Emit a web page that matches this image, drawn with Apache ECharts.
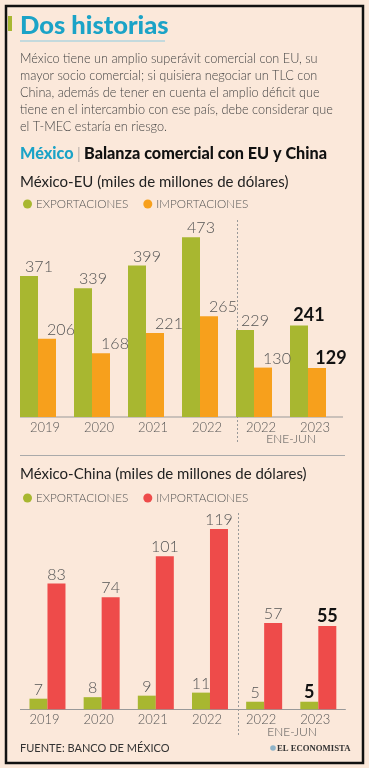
<!DOCTYPE html>
<html><head><meta charset="utf-8">
<script src="https://cdn.jsdelivr.net/npm/echarts@6/dist/echarts.min.js"></script>
<style>html,body{margin:0;padding:0;background:#fbe8da;}#c{width:369px;height:768px;}</style>
</head><body><div id="c"></div>
<script>
const categories = ['2019','2020','2021','2022','2022','2023'];
const euExports = [371, 339, 399, 473, 229, 241];
const euImports = [206, 168, 221, 265, 130, 129];
const chinaExports = [7, 8, 9, 11, 5, 5];
const chinaImports = [83, 74, 101, 119, 57, 55];
const seriesNames = ['EXPORTACIONES', 'IMPORTACIONES'];
const paragraph = [
  'México tiene un amplio superávit comercial con EU, su',
  'mayor socio comercial; si quisiera negociar un TLC con',
  'China, además de tener en cuenta el amplio déficit que',
  'tiene en el intercambio con ese país, debe considerar que',
  'el T-MEC estaría en riesgo.'
];

const FONT = 'Lato';
const GREEN = '#a8b730', ORANGE = '#f7a01c', RED = '#ee4b4a', CYAN = '#1ba3c7';
const chart = echarts.init(document.getElementById('c'), null, {renderer: 'canvas'});

function withLastBold(arr) {
  return arr.map((v, i) => i === arr.length - 1
    ? {value: v, label: {fontWeight: 'bold', color: '#111', fontSize: 18}}
    : v);
}
function lbl(offsetX) {
  return {show: true, position: 'top', distance: 1, offset: [offsetX, 0],
    fontFamily: FONT, fontWeight: 300, fontSize: 16, color: '#555'};
}

const graphics = [
  {type: 'rect', shape: {x: 6, y: 6, width: 357, height: 757}, style: {fill: 'none', stroke: '#111', lineWidth: 2.5}},
  {type: 'rect', shape: {x: 8, y: 16, width: 4, height: 15}, style: {fill: GREEN}},
  {type: 'text', x: 20, y: 26, style: {text: 'Dos historias', font: '900 25.5px ' + FONT, fill: CYAN, textVerticalAlign: 'middle'}},
  {type: 'line', shape: {x1: 20, y1: 41, x2: 165, y2: 41}, style: {stroke: '#8ccbe0', lineWidth: 1}},
  {type: 'text', x: 20, y: 153.5, style: {rich: {a: {font: '900 16.2px ' + FONT, fill: CYAN}, b: {font: '300 16px ' + FONT, fill: '#888'}, c: {font: '900 16.2px ' + FONT, fill: '#111'}}, text: '{a|México} {b||} {c|Balanza comercial con EU y China}', textVerticalAlign: 'middle'}},
  {type: 'text', x: 20, y: 182, style: {text: 'México-EU (miles de millones de dólares)', font: '15px ' + FONT, fill: '#222', textVerticalAlign: 'middle'}},
  {type: 'text', x: 20, y: 474, style: {text: 'México-China (miles de millones de dólares)', font: '15px ' + FONT, fill: '#222', textVerticalAlign: 'middle'}},
  {type: 'line', shape: {x1: 20, y1: 417, x2: 343, y2: 417}, style: {stroke: '#999', lineWidth: 1}},
  {type: 'line', shape: {x1: 237.5, y1: 220, x2: 237.5, y2: 443}, style: {stroke: '#999', lineWidth: 1, lineDash: [2, 2]}},
  {type: 'line', shape: {x1: 238.5, y1: 513, x2: 238.5, y2: 736}, style: {stroke: '#999', lineWidth: 1, lineDash: [2, 2]}},
  {type: 'line', shape: {x1: 20, y1: 455.5, x2: 345, y2: 455.5}, style: {stroke: '#aaa', lineWidth: 1}},
  {type: 'text', x: 291, y: 439, style: {text: 'ENE-JUN', font: '300 12px ' + FONT, fill: '#555', textAlign: 'center', textVerticalAlign: 'middle'}},
  {type: 'text', x: 292, y: 732, style: {text: 'ENE-JUN', font: '300 12px ' + FONT, fill: '#555', textAlign: 'center', textVerticalAlign: 'middle'}},
  {type: 'text', x: 20, y: 748, style: {text: 'FUENTE: BANCO DE MÉXICO', font: '11px ' + FONT, fill: '#333', textVerticalAlign: 'middle'}},
  {type: 'circle', shape: {cx: 273, cy: 748, r: 2.8}, style: {fill: '#8fb3c8'}},
  {type: 'text', x: 277, y: 748.5, style: {text: 'EL ECONOMISTA', font: 'bold 8.7px "Liberation Serif"', fill: '#333', textVerticalAlign: 'middle'}}
];
paragraph.forEach((t, i) => graphics.push({type: 'text', x: 20, y: 58.5 + i * 17.1,
  style: {text: t, font: '300 12.7px ' + FONT, fill: '#444', textVerticalAlign: 'middle'}}));

const legendBase = {orient: 'horizontal', icon: 'circle', itemWidth: 9, itemHeight: 9, itemGap: 15, padding: 0,
  textStyle: {fontFamily: FONT, fontWeight: 300, fontSize: 11.7, color: '#555', padding: [0, 0, 0, -1]},
  formatter: n => n.split('|')[0]};

chart.setOption({
  animation: false,
  backgroundColor: '#fbe8da',
  graphic: graphics,
  legend: [
    Object.assign({}, legendBase, {left: 23, top: 198, data: seriesNames.map(n => n + '|EU')}),
    Object.assign({}, legendBase, {left: 23, top: 492, data: seriesNames.map(n => n + '|CN')})
  ],
  grid: [
    {left: 11, top: 227, width: 324, height: 190},
    {left: 20.4, top: 527.5, width: 325, height: 181.8}
  ],
  xAxis: [
    {gridIndex: 0, type: 'category', data: categories, axisLine: {show: false}, axisTick: {show: false},
      axisLabel: {margin: 4, padding: [0, 0, 0, 14], fontFamily: FONT, fontWeight: 300, fontSize: 13, color: '#555'}},
    {gridIndex: 1, type: 'category', data: categories, axisLine: {show: true, lineStyle: {color: '#999', width: 1}}, axisTick: {show: false},
      axisLabel: {margin: 4, padding: [0, 6, 0, 0], fontFamily: FONT, fontWeight: 300, fontSize: 13, color: '#555'}}
  ],
  yAxis: [
    {gridIndex: 0, type: 'value', min: 0, max: 500, show: false},
    {gridIndex: 1, type: 'value', min: 0, max: 120, show: false}
  ],
  series: [
    {name: seriesNames[0] + '|EU', type: 'bar', xAxisIndex: 0, yAxisIndex: 0, barWidth: 18, barGap: '0%', itemStyle: {color: GREEN}, label: lbl(10), data: withLastBold(euExports)},
    {name: seriesNames[1] + '|EU', type: 'bar', xAxisIndex: 0, yAxisIndex: 0, barWidth: 18, barGap: '0%', itemStyle: {color: ORANGE}, label: lbl(14), data: withLastBold(euImports)},
    {name: seriesNames[0] + '|CN', type: 'bar', xAxisIndex: 1, yAxisIndex: 1, barWidth: 18, barGap: '0%', itemStyle: {color: GREEN}, label: lbl(0), data: withLastBold(chinaExports)},
    {name: seriesNames[1] + '|CN', type: 'bar', xAxisIndex: 1, yAxisIndex: 1, barWidth: 18, barGap: '0%', itemStyle: {color: RED}, label: lbl(0), data: withLastBold(chinaImports)}
  ]
});
</script></body></html>
